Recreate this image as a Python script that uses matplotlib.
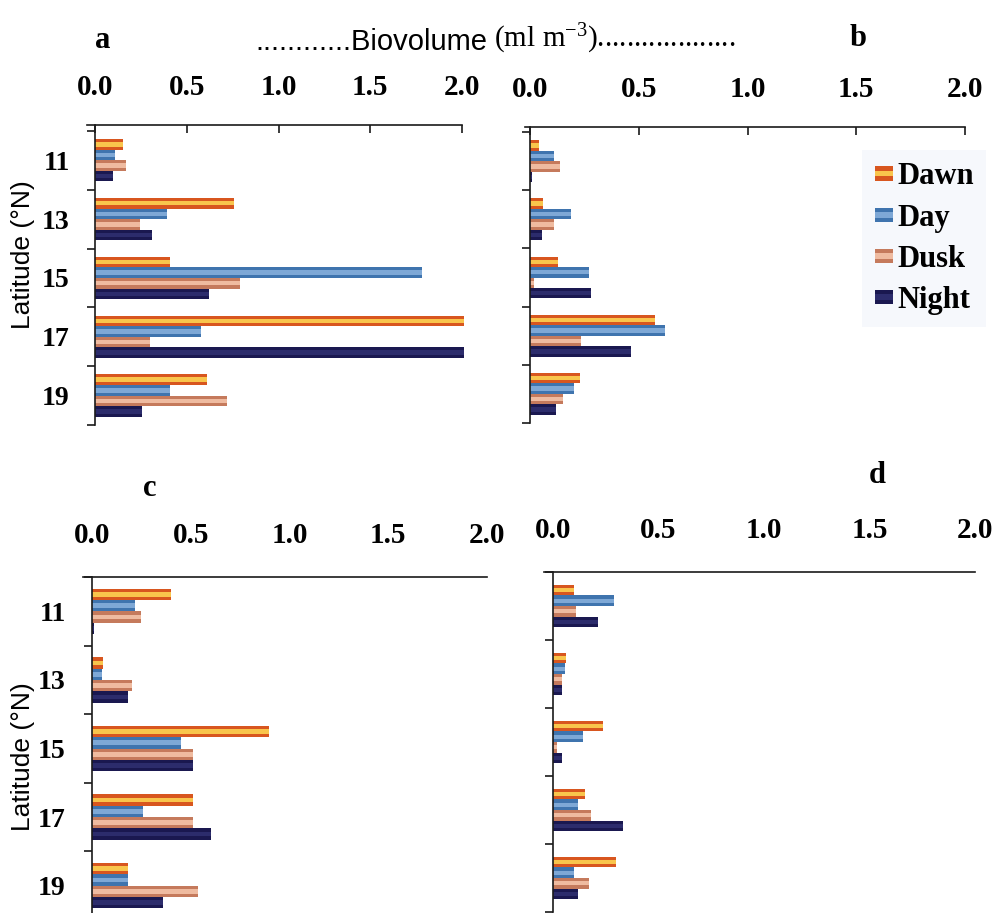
import matplotlib
matplotlib.use("Agg")
import matplotlib.pyplot as plt
import numpy as np
from matplotlib.patches import Patch, Rectangle
from matplotlib.legend_handler import HandlerBase
from matplotlib.font_manager import FontProperties

plt.rcParams["mathtext.fontset"] = "custom"
plt.rcParams["mathtext.rm"] = "Liberation Serif"
plt.rcParams["mathtext.it"] = "Liberation Serif:italic"

latitudes = ["11", "13", "15", "17", "19"]
periods = ["Dawn", "Day", "Dusk", "Night"]
x_ticks = [0.0, 0.5, 1.0, 1.5, 2.0]
x_ticklabels = ["0.0", "0.5", "1.0", "1.5", "2.0"]

# biovolume (ml m-3) per latitude, panel a
a_dawn = [0.15, 0.76, 0.41, 2.01, 0.61]
a_day = [0.11, 0.39, 1.78, 0.58, 0.41]
a_dusk = [0.17, 0.245, 0.79, 0.30, 0.72]
a_night = [0.10, 0.31, 0.62, 2.01, 0.255]

# panel b
b_dawn = [0.04, 0.06, 0.13, 0.575, 0.23]
b_day = [0.11, 0.19, 0.27, 0.62, 0.20]
b_dusk = [0.14, 0.11, 0.02, 0.235, 0.15]
b_night = [0.01, 0.055, 0.28, 0.465, 0.12]

# panel c
c_dawn = [0.40, 0.055, 0.895, 0.51, 0.18]
c_day = [0.22, 0.05, 0.45, 0.26, 0.18]
c_dusk = [0.25, 0.20, 0.51, 0.51, 0.535]
c_night = [0.01, 0.18, 0.51, 0.605, 0.36]

# panel d
d_dawn = [0.10, 0.063, 0.237, 0.15, 0.30]
d_day = [0.29, 0.058, 0.142, 0.12, 0.10]
d_dusk = [0.11, 0.044, 0.02, 0.18, 0.17]
d_night = [0.213, 0.044, 0.043, 0.33, 0.12]

outer = {"Dawn": "#d8561f", "Day": "#3f74ae", "Dusk": "#c57a5c", "Night": "#1a1850"}
inner = {"Dawn": "#f9c54c", "Day": "#7ea8d6", "Dusk": "#efbba0", "Night": "#2c2c6c"}

W, H = 998, 913
fig = plt.figure(figsize=(W / 100, H / 100), dpi=100)

serif_bold = dict(family="Liberation Serif", weight="bold")
LW = 1.2
TICK_FS = 21


def make_axes(x0, x2, left, top, bottom):
    """Axes placed in pixel units; x0/x2 are pixel positions of 0 and 2."""
    scale = (x2 - x0) / 2.0
    ax = fig.add_axes([left / W, (H - bottom) / H, (x2 - left) / W, (bottom - top) / H])
    ax.set_xlim(-(x0 - left) / scale, 2.0)
    return ax


def draw_panel(ax, series, ytop, bar_h, ylabels, xtick_len, xpad, ypad):
    for i, (name, vals) in enumerate(zip(periods, series)):
        y = np.arange(len(latitudes)) + (i - 1.5) * bar_h
        ax.barh(y, vals, height=bar_h, color=outer[name], edgecolor="none",
                clip_on=False, zorder=2)
        ax.barh(y, vals, height=bar_h * 0.42, color=inner[name], edgecolor="none",
                clip_on=False, zorder=3)
    ax.set_ylim(4.5, ytop)
    for s in ("right", "bottom"):
        ax.spines[s].set_visible(False)
    ax.spines["left"].set_position(("data", 0))
    for s in ("left", "top"):
        ax.spines[s].set_linewidth(LW)
        ax.spines[s].set_color("#1a1a1a")
        ax.spines[s].set_zorder(4)
    ax.xaxis.tick_top()
    ax.set_xticks(x_ticks)
    ax.set_xticklabels(x_ticklabels, fontsize=TICK_FS, **serif_bold)
    ax.tick_params(axis="x", which="major", direction="in", length=xtick_len,
                   width=LW, pad=xpad, color="#1a1a1a")
    ax.set_yticks(range(len(latitudes)))
    if ylabels:
        ax.set_yticklabels(latitudes, fontsize=20, **serif_bold)
    else:
        ax.set_yticklabels([])
    ax.tick_params(axis="y", which="major", length=0, pad=ypad)
    ax.set_yticks(np.arange(-0.5, len(latitudes), 1.0), minor=True)
    ax.tick_params(axis="y", which="minor", direction="out", length=6,
                   width=LW, color="#1a1a1a")
    ax.set_facecolor("none")


ax_a = make_axes(95, 462, 87, 125, 425)
draw_panel(ax_a, [a_dawn, a_day, a_dusk, a_night], -0.6, 0.18, True, 6, 17.5, 18)

ax_b = make_axes(530, 965, 525, 127, 423)
draw_panel(ax_b, [b_dawn, b_day, b_dusk, b_night], -0.586, 0.18, False, 6, 17.5, 18)

ax_c = make_axes(92, 487, 83, 577, 920)
draw_panel(ax_c, [c_dawn, c_day, c_dusk, c_night], -0.5, 0.165, True, 0, 20, 19)

ax_d = make_axes(553, 975, 544, 572, 912)
draw_panel(ax_d, [d_dawn, d_day, d_dusk, d_night], -0.5, 0.155, False, 0, 20, 19)

# panel letters
for letter, (px, py) in {"a": (103, 48), "b": (858, 46), "c": (150, 496), "d": (877, 483)}.items():
    fig.text(px / W, 1 - py / H, letter, ha="center", va="baseline", fontsize=22, **serif_bold)

# shared x-axis title
t1 = fig.text(255 / W, 1 - 50 / H, "............Biovolume", ha="left", va="baseline",
              family="Liberation Sans", fontsize=21)
ax_a.annotate(" (ml m$^{-3}$)...................", xy=(1, 0), xycoords=t1,
              ha="left", va="bottom", family="Liberation Serif", fontsize=21,
              annotation_clip=False)

# y-axis titles
for yc in (255, 757):
    fig.text(23 / W, 1 - yc / H, "Latitude (°N)", rotation=90, ha="center", va="center",
             family="Liberation Sans", fontsize=19)


class StripeHandler(HandlerBase):
    def create_artists(self, legend, orig_handle, xdescent, ydescent, width, height,
                       fontsize, trans):
        name = orig_handle.get_label()
        r1 = Rectangle((-xdescent, -ydescent), width, height, facecolor=outer[name],
                       edgecolor="none", transform=trans)
        r2 = Rectangle((-xdescent, -ydescent + height * 0.3), width, height * 0.4,
                       facecolor=inner[name], edgecolor="none", transform=trans)
        return [r1, r2]


handles = [Patch(label=p) for p in periods]
fig.legend(handles=handles, labels=periods, loc="upper left",
           bbox_to_anchor=(847 / W, 1 - 135 / H), frameon=True, facecolor="#f6f8fc",
           edgecolor="none", fancybox=False, framealpha=1,
           prop=FontProperties(family="Liberation Serif", weight="bold", size=22),
           handlelength=0.6, handleheight=0.35, handletextpad=0.15, labelspacing=0.4,
           borderpad=0.4, handler_map={Patch: StripeHandler()})

fig.savefig("out.png", dpi=100)
